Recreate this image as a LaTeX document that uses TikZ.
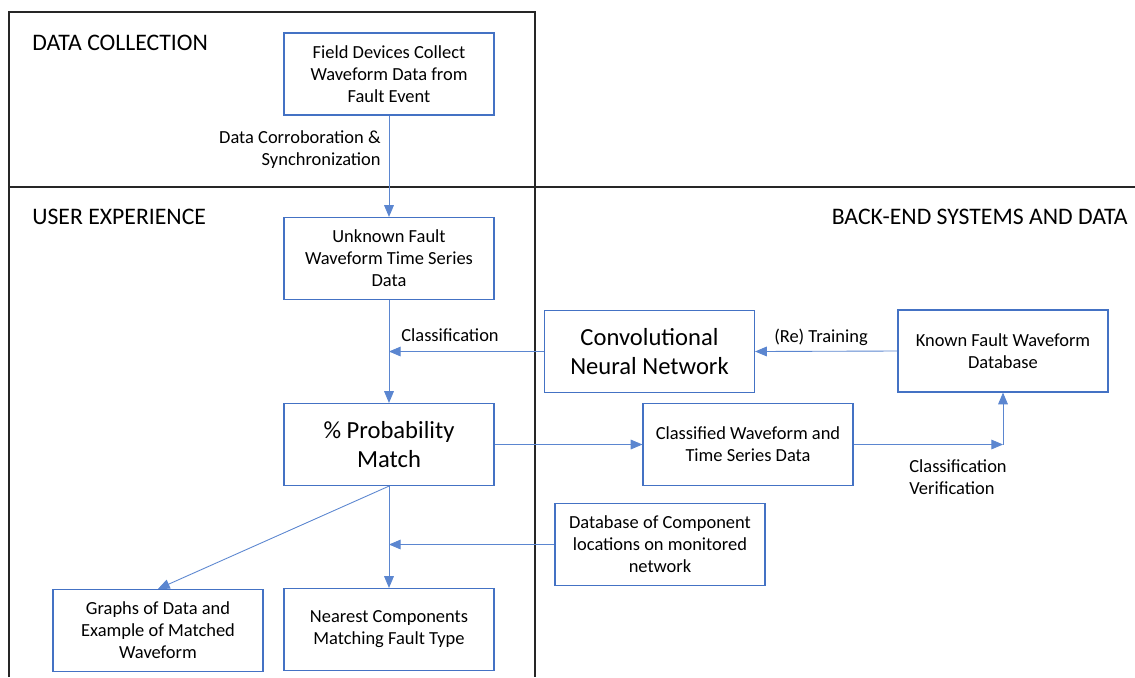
\documentclass[tikz,border=0pt]{standalone}
\usepackage{fontspec}
\setmainfont{Carlito}
\usetikzlibrary{positioning}
\usetikzlibrary{arrows,calc}
\definecolor{boxblue}{HTML}{4472C4}
\definecolor{linkblue}{HTML}{5B86D0}
\tikzstyle{stage}=[rectangle,draw=boxblue,line width=0.7pt,minimum width=4.2cm,minimum height=1.64cm,align=center,inner sep=2pt,font=\fontsize{10.5}{12.6}\selectfont]
\tikzstyle{bigstage}=[stage,font=\fontsize{14}{16}\selectfont]
\tikzstyle{link}=[-triangle 45,draw=linkblue,line width=0.5pt]
\tikzstyle{tag}=[inner sep=0pt,font=\fontsize{10.5}{12.6}\selectfont]
\tikzstyle{region}=[inner sep=0pt,font=\fontsize{13.5}{16}\selectfont]
\tikzstyle{frame}=[draw=black!85,line width=0.8pt]

\begin{document}
\begin{tikzpicture}[x=0.02cm,y=-0.02cm]
\useasboundingbox (0,0) rectangle (1135,677);

%frame
\draw[frame] (9,677) -- (9,12) -- (535,12) -- (535,677);
\draw[frame] (9,187) -- (1135,187);

%regions
\node[region,anchor=west] (datacoll) at (32,43) {DATA COLLECTION};
\node[region,anchor=west] (userexp) at (32,217) {USER EXPERIENCE};
\node[region,anchor=east] (backend) at (1128,217) {BACK-END SYSTEMS AND DATA};

%boxes
    \foreach \pos/\name/\label in {{(389,74)/field/{Field Devices Collect\\Waveform Data from\\Fault Event}},
        {(389,258.5)/unknown/{Unknown Fault\\Waveform Time Series\\Data}},
        {(1003,351)/known/{Known Fault Waveform\\Database}},
        {(748,444.5)/classified/{Classified Waveform and\\Time Series Data}},
        {(660,544.5)/compdb/{Database of Component\\locations on monitored\\network}},
        {(158,630.5)/graphs/{Graphs of Data and\\Example of Matched\\Waveform}},
        {(389,629.5)/nearest/{Nearest Components\\Matching Fault Type}}}
        \node[stage] (\name) at \pos {\label};
    \foreach \pos/\name/\label in {{(389,444.5)/prob/{\% Probability\\Match}},
        {(649.5,351.5)/cnn/{Convolutional\\Neural Network}}}
        \node[bigstage] (\name) at \pos {\label};

%free ends
\coordinate (clsend) at (unknown.south |- cnn.west);
\coordinate (locend) at (prob.south |- compdb.west);
\coordinate (verifturn) at (known.south |- classified.east);

%links
  \foreach \source/ \dest in {field.south/unknown.north, unknown.south/prob.north, cnn.west/clsend, known.west/cnn.east, prob.east/classified.west, classified.east/verifturn, verifturn/known.south, prob.south/graphs.north, prob.south/nearest.north, compdb.west/locend}
          \draw[link] (\source) -- (\dest);

%link labels
\node[tag,anchor=east,align=right] (corrob) at (381,150) {Data Corroboration \&\\Synchronization};
\node[tag,anchor=west] (clslabel) at (401,335) {Classification};
\node[tag] (retrain) at (821,337) {(Re) Training};
\node[tag,anchor=north west,align=left] (verif) at (909,459) {Classification\\Verification};

\end{tikzpicture}
\end{document}
